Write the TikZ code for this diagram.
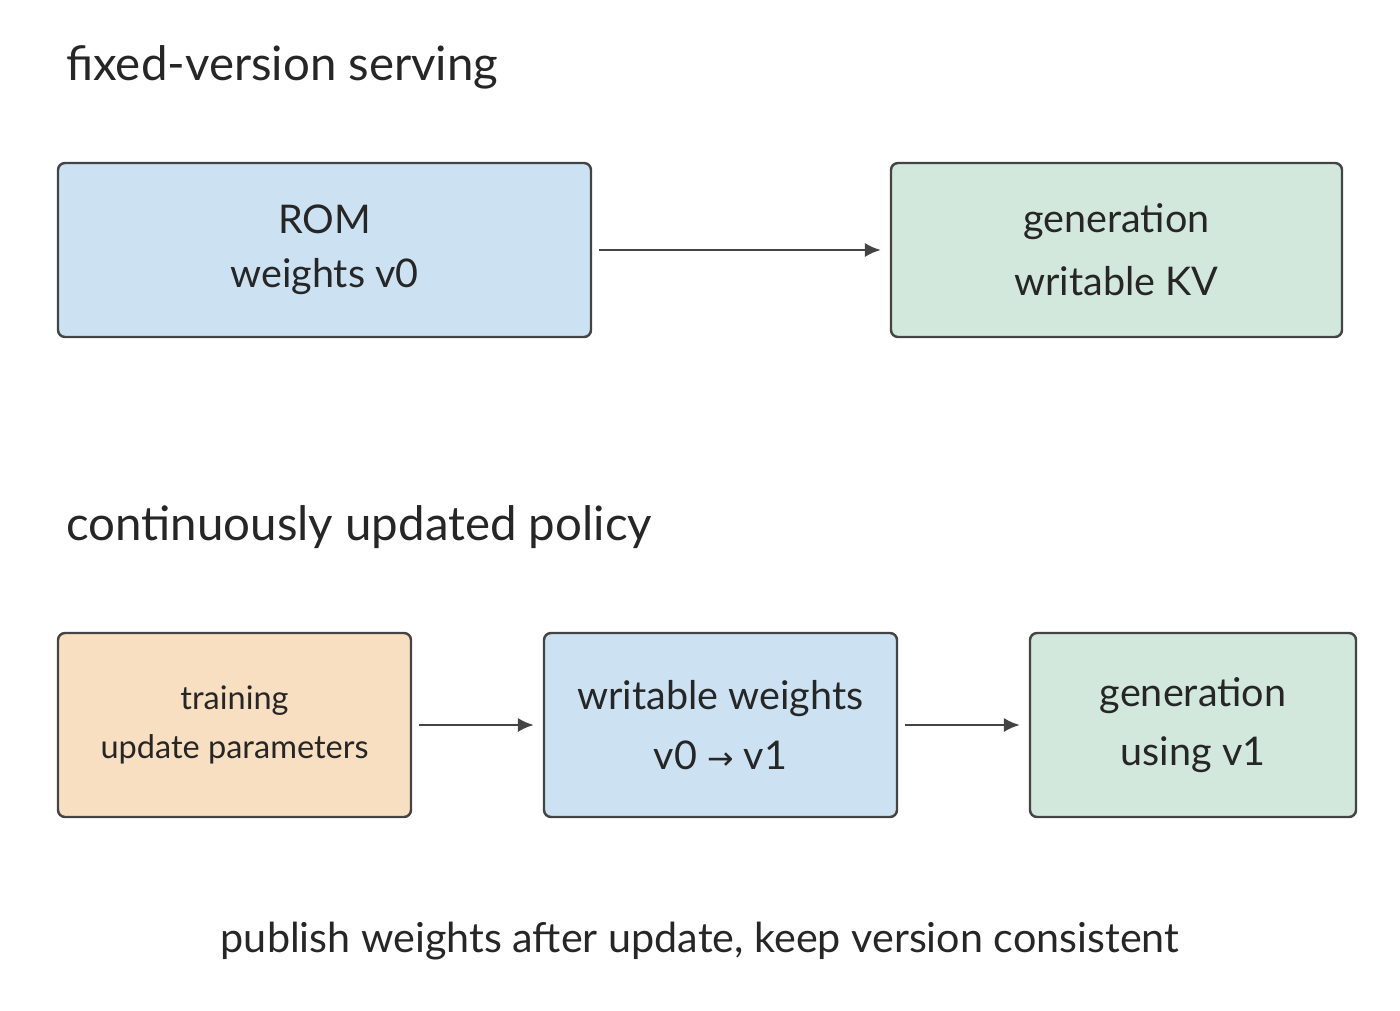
\documentclass[tikz,border=0pt]{standalone}
\usepackage{fontspec}
\setmainfont{Lato}
\newfontfamily\symfont{DejaVu Sans}
\usetikzlibrary{arrows.meta}
\definecolor{bblue}{HTML}{CCE2F2}
\definecolor{bgreen}{HTML}{D2E8DC}
\definecolor{borange}{HTML}{F8DFC2}
\definecolor{edge}{HTML}{444444}
\tikzset{
  box/.style={draw=edge,line width=1.4pt,rounded corners=4pt,align=center,text=black!85,inner sep=0pt},
  conn/.style={draw=edge,line width=1.3pt,-{Latex[length=9pt,width=8pt]}},
  ttl/.style={anchor=base west,font=\fontsize{27}{32}\selectfont,text=black!85}
}
\begin{document}
\begin{tikzpicture}[x=0.02cm,y=-0.02cm]
\useasboundingbox (0,0) rectangle (1400,1011);
\node[ttl] (t1) at (60,80) {fixed-version serving};
\node[ttl] (t2) at (60,540) {continuously updated policy};
\node[box,fill=bblue,minimum width=533*0.02cm,minimum height=174*0.02cm,font=\fontsize{22.5}{31}\selectfont] (rom) at (324.5,250) {ROM\\weights v0};
\node[box,fill=bgreen,minimum width=451*0.02cm,minimum height=174*0.02cm,font=\fontsize{22.5}{36}\selectfont] (g1) at (1116.5,250) {generation\\writable KV};
\node[box,fill=borange,minimum width=353*0.02cm,minimum height=184*0.02cm,font=\fontsize{18.5}{27.5}\selectfont] (tr) at (234.5,725) {training\\update parameters};
\node[box,fill=bblue,minimum width=353*0.02cm,minimum height=184*0.02cm,font=\fontsize{22.5}{34}\selectfont] (wr) at (720.5,725) {writable weights\\v0 {\symfont\fontsize{18}{20}\selectfont→} v1};
\node[box,fill=bgreen,minimum width=326*0.02cm,minimum height=184*0.02cm,font=\fontsize{22.5}{34}\selectfont] (g2) at (1193,725) {generation\\using v1};
\draw[conn] (rom.east) ++(7,0) -- ([xshift=-9*0.02cm]g1.west);
\draw[conn] (tr.east) ++(7,0) -- ([xshift=-9*0.02cm]wr.west);
\draw[conn] (wr.east) ++(7,0) -- ([xshift=-9*0.02cm]g2.west);
\node[anchor=base,font=\fontsize{23.5}{28}\selectfont,text=black!85] (foot) at (700,952) {publish weights after update, keep version consistent};
\end{tikzpicture}
\end{document}
